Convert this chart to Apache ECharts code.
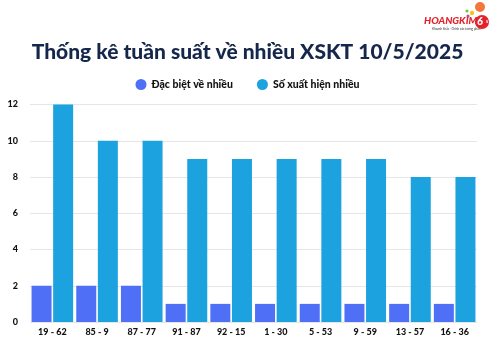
<!DOCTYPE html>
<html><head><meta charset="utf-8">
<script src="https://cdn.jsdelivr.net/npm/echarts@6/dist/echarts.min.js"></script>
<style>html,body{margin:0;padding:0;background:#fff}#c{width:495px;height:345px}</style>
</head><body><div id="c"></div>
<script>
const categories = ['19 - 62','85 - 9','87 - 77','91 - 87','92 - 15','1 - 30','5 - 53','9 - 59','13 - 57','16 - 36'];
const specialCounts = [2,2,2,1,1,1,1,1,1,1];
const appearCounts = [12,10,10,9,9,9,9,9,8,8];
const seriesNames = ['Đặc biệt về nhiều','Số xuất hiện nhiều'];
const titleText = 'Thống kê tuần suất về nhiều XSKT 10/5/2025';

const chart = echarts.init(document.getElementById('c'), null, {renderer:'canvas'});
const labelFont = {fontFamily:'Lato', fontWeight:900, color:'#111', fontSize:9};
chart.setOption({
  animation:false,
  backgroundColor:'#fff',
  title:{text:titleText, left:'center', top:37, textStyle:{fontFamily:'Lato', fontWeight:900, fontSize:21, color:'#15284b'}},
  legend:{top:74, left:'center', itemGap:24, icon:'circle', itemWidth:11, itemHeight:11,
    textStyle:{fontFamily:'Lato', fontWeight:900, fontSize:10.5, color:'#111'}},
  grid:{left:30, right:18, top:104.5, bottom:23},
  xAxis:{type:'category', data:categories, axisTick:{show:false}, axisLine:{show:false},
    axisLabel:Object.assign({margin:6, interval:0}, labelFont)},
  yAxis:{type:'value', min:0, max:12, interval:2, axisLine:{show:false}, axisTick:{show:false},
    splitLine:{lineStyle:{color:'#e6e6e6'}}, axisLabel:Object.assign({margin:12}, labelFont)},
  series:[
    {name:seriesNames[0], type:'bar', data:specialCounts, barWidth:20, barGap:'8%',
      itemStyle:{color:'#4f6ff6'}},
    {name:seriesNames[1], type:'bar', data:appearCounts, barWidth:20,
      itemStyle:{color:'#1ba2df'}}
  ],
  graphic:[
    {type:'circle', shape:{cx:480, cy:7, r:5}, style:{fill:'#f2773a'}},
    {type:'circle', shape:{cx:472, cy:13, r:2.2}, style:{fill:'#f5c416'}},
    {type:'circle', shape:{cx:467, cy:11, r:1.6}, style:{fill:'#7cc242'}},
    {type:'circle', shape:{cx:468, cy:16, r:1.6}, style:{fill:'#9b59b6'}},
    {type:'circle', shape:{cx:482, cy:22, r:7}, style:{fill:'#e42229'}},
    {type:'text', left:477, top:16, style:{text:'6', fill:'#fff', font:'italic 900 11px Lato'}},
    {type:'text', left:486, top:20, style:{text:'S', fill:'#fff', font:'700 4px Lato'}},
    {type:'text', left:424, top:16, style:{text:'HOANGKIM', fill:'#e42229', font:'italic 900 10px Lato'}},
    {type:'text', left:432, top:28, style:{text:'Khoanh khắc · Chính xác tương phân', fill:'#333', font:'3px Lato'}}
  ]
});
</script></body></html>
